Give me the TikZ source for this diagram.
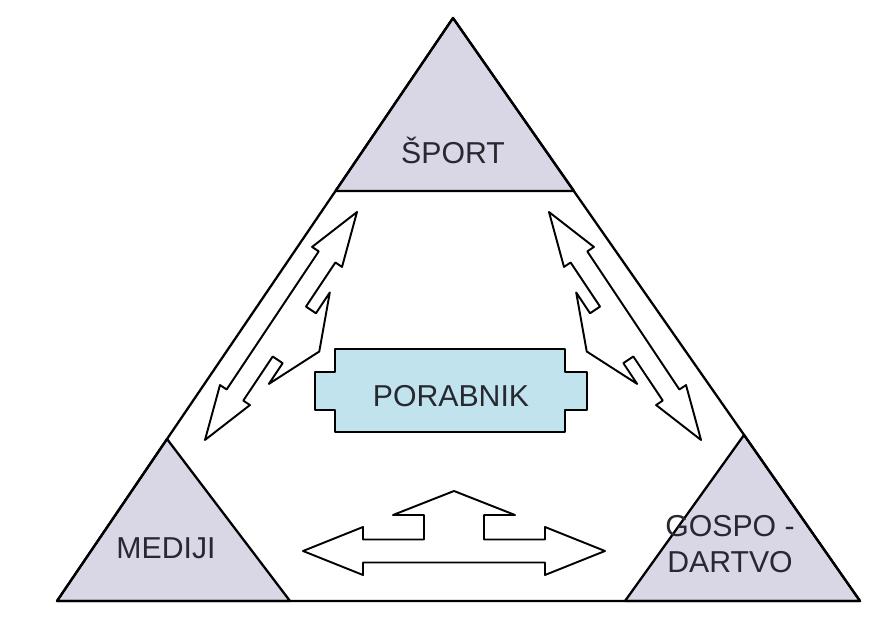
\documentclass[tikz,border=0pt]{standalone}
\usepackage{fontspec}
\setmainfont{Liberation Sans}
\usepackage{tikz}
\definecolor{trifill}{RGB}{217,214,230}
\definecolor{porfill}{RGB}{192,227,237}
\definecolor{labeltext}{RGB}{40,40,48}
% block arrow with two heads along the shaft and one head on a side stem
% #1 half length, #2 shaft, #3 head, #4 head length, #5 stem, #6 stem top, #7 barb, #8 tip
\newcommand{\triarrow}[8]{%
  \draw [line width=1.1pt,fill=white] (-#1,0) -- (-#1+#4,#3) -- (-#1+#4,#2) -- (-#5,#2) -- (-#5,#6)
    -- (-#7,#6) -- (0,#8) -- (#7,#6) -- (#5,#6) -- (#5,#2) -- (#1-#4,#2) -- (#1-#4,#3) -- (#1,0)
    -- (#1-#4,-#3) -- (#1-#4,-#2) -- (-#1+#4,-#2) -- (-#1+#4,-#3) -- cycle;}

\begin{document}
\begin{tikzpicture}[line cap=round,line join=round,x=0.02cm,y=0.02cm]
        \useasboundingbox (0,0) rectangle (892,625);
        \tikzset{lbl/.style={text=labeltext,font=\fontsize{17.2}{20.5}\selectfont,inner sep=0pt}}
        % corner triangles
        \draw [line width=1.3pt,fill=trifill] (453,607) -- (335.5,434) -- (574,434) -- cycle;
        \draw [line width=1.3pt,fill=trifill] (167,186) -- (57,24) -- (290,24) -- cycle;
        \draw [line width=1.3pt,fill=trifill] (744,190) -- (625,24) -- (860,24) -- cycle;
        % outer triangle
        \draw [line width=1.3pt] (453,607) -- (57,24) -- (860,24) -- cycle;
        % consumer box
        \draw [line width=1.1pt,fill=porfill] (335,276) -- (565,276) -- (565,253) -- (587,253) -- (587,215)
            -- (565,215) -- (565,193) -- (335,193) -- (335,215) -- (315,215) -- (315,253) -- (335,253) -- cycle;
        % arrows
        \begin{scope}[shift={(454,74)}]
            \triarrow{151}{11.5}{24}{60}{30}{36}{61}{60}
        \end{scope}
        \begin{scope}[shift={(281,299)},rotate=-123.7]
            \triarrow{137}{10}{18}{54}{30}{22}{55}{46}
        \end{scope}
        \begin{scope}[shift={(625,299)},rotate=123.7]
            \triarrow{137}{10}{18}{54}{30}{22}{55}{46}
        \end{scope}
        % labels
        \node [lbl] (sport) at (453,475) {ŠPORT};
        \node [lbl] (mediji) at (166,77) {MEDIJI};
        \node [lbl,align=center] (gospodarstvo) at (730,81) {GOSPO -\\DARTVO};
        \node [lbl] (porabnik) at (451,229) {PORABNIK};
\end{tikzpicture}
\end{document}
